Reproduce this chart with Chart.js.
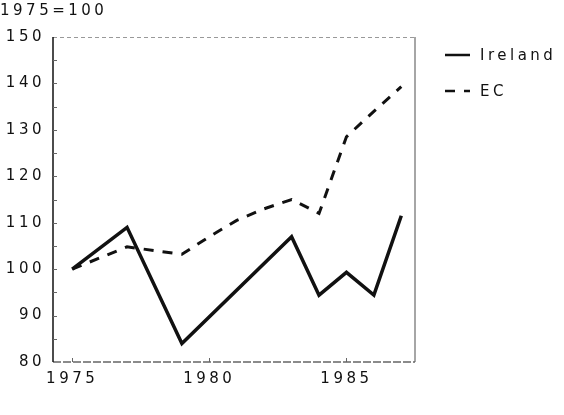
<!DOCTYPE html>
<html>
<head>
<meta charset="utf-8">
<script src="https://cdn.jsdelivr.net/npm/chart.js@4.4.1/dist/chart.umd.min.js"></script>
<style>
html,body{margin:0;padding:0;background:#fff;}
#wrap{width:564px;height:415px;position:relative;}
</style>
</head>
<body>
<div id="wrap"><canvas id="c" width="564" height="415"></canvas></div>
<script>
// ---- data ----
const unitLabel = "1975=100";
const xTickYears = [1975, 1980, 1985];
const irelandYears = [1975, 1977, 1979, 1983, 1984, 1985, 1986, 1987];
const irelandValues = [100, 109, 84, 107, 94.4, 99.3, 94.4, 111.5];
const ecYears = [1975, 1977, 1979, 1980, 1981, 1982, 1983, 1984, 1985, 1986, 1987];
const ecValues = [100, 104.8, 103.2, 107, 110.5, 113, 115, 112, 128.5, 134, 139.3];
const seriesNames = ["Ireland", "EC"];

const FAMILY = "'DejaVu Sans', Arial, sans-serif";
const SIZE = 15;
const WEIGHT = 'normal';
const FONT = WEIGHT + " " + SIZE + "px " + FAMILY;
const LS = "3.5px";

function toPoints(xs, ys){ return xs.map((x,i)=>({x:x, y:ys[i]})); }

const spacingPlugin = {
  id: 'spacing',
  beforeLayout(chart){ chart.ctx.letterSpacing = LS; },
  beforeDraw(chart){ chart.ctx.letterSpacing = LS; },
  beforeDatasetsDraw(chart){ chart.ctx.letterSpacing = LS; }
};

const decorPlugin = {
  id: 'decor',
  beforeDatasetsDraw(chart){
    const ctx = chart.ctx, a = chart.chartArea;
    const xs = chart.scales.x, ys = chart.scales.y;
    ctx.save();
    ctx.strokeStyle = '#999'; ctx.lineWidth = 1; ctx.setLineDash([4,3]);
    ctx.beginPath(); ctx.moveTo(a.left, a.top+0.5); ctx.lineTo(a.right, a.top+0.5); ctx.stroke();
    ctx.setLineDash([]); ctx.strokeStyle = '#888'; ctx.lineWidth = 1.5;
    ctx.beginPath(); ctx.moveTo(a.right, a.top); ctx.lineTo(a.right, a.bottom); ctx.stroke();
    ctx.strokeStyle = '#666'; ctx.lineWidth = 1.5; ctx.setLineDash([8,2]);
    ctx.beginPath(); ctx.moveTo(a.left, a.bottom); ctx.lineTo(a.right, a.bottom); ctx.stroke();
    ctx.setLineDash([]);
    ctx.strokeStyle = '#111'; ctx.lineWidth = 1.5;
    ctx.beginPath(); ctx.moveTo(a.left, a.top); ctx.lineTo(a.left, a.bottom); ctx.stroke();
    ctx.strokeStyle = '#666'; ctx.lineWidth = 1;
    for (let v = ys.min + 5; v < ys.max; v += 5){
      const py = Math.round(ys.getPixelForValue(v)) + 0.5;
      ctx.beginPath(); ctx.moveTo(a.left, py); ctx.lineTo(a.left + 4, py); ctx.stroke();
    }
    xTickYears.forEach(y => {
      const px = Math.round(xs.getPixelForValue(y)) + 0.5;
      ctx.beginPath(); ctx.moveTo(px, a.bottom); ctx.lineTo(px, a.bottom - 4); ctx.stroke();
    });
    ctx.restore();
  },
  afterDraw(chart){
    const ctx = chart.ctx;
    ctx.save();
    ctx.letterSpacing = LS;
    ctx.font = FONT; ctx.fillStyle = '#111'; ctx.textAlign = 'left'; ctx.textBaseline = 'alphabetic';
    ctx.fillText(unitLabel, 0, 15);
    const ds = chart.data.datasets;
    const rows = [55, 91];
    ds.forEach((d, i) => {
      const y = rows[i];
      ctx.strokeStyle = d.borderColor; ctx.lineWidth = 2.5;
      ctx.setLineDash(d.borderDash || []);
      ctx.beginPath(); ctx.moveTo(445, y); ctx.lineTo(470, y); ctx.stroke();
      ctx.setLineDash([]);
      ctx.fillText(d.label, 480, y + 5);
    });
    ctx.restore();
  }
};

new Chart(document.getElementById('c'), {
  type: 'line',
  data: {
    datasets: [
      { label: seriesNames[0], data: toPoints(irelandYears, irelandValues),
        borderColor: '#111', borderWidth: 3.5, borderJoinStyle: 'miter',
        pointRadius: 0, tension: 0, fill: false },
      { label: seriesNames[1], data: toPoints(ecYears, ecValues),
        borderColor: '#111', borderWidth: 3, borderDash: [10, 9], borderJoinStyle: 'miter',
        pointRadius: 0, tension: 0, fill: false }
    ]
  },
  options: {
    responsive: false,
    animation: false,
    devicePixelRatio: 1,
    layout: { padding: { left: 0, top: 37, right: 149, bottom: 0 } },
    plugins: { legend: { display: false }, tooltip: { enabled: false }, title: { display: false } },
    scales: {
      x: {
        type: 'linear', min: 1974.3, max: 1987.5,
        afterBuildTicks(s){ s.ticks = xTickYears.map(v => ({value: v})); },
        afterFit(s){ s.height = 53; },
        grid: { display: false, drawTicks: false },
        border: { display: false },
        ticks: { color: '#111', font: { family: FAMILY, size: SIZE, weight: WEIGHT },
                 padding: 8, maxRotation: 0, autoSkip: false, callback: v => String(v) }
      },
      y: {
        min: 80, max: 150,
        afterFit(s){ s.width = 53; },
        grid: { display: false, drawTicks: false },
        border: { display: false },
        ticks: { stepSize: 10, color: '#111', font: { family: FAMILY, size: SIZE, weight: WEIGHT },
                 padding: 8 }
      }
    }
  },
  plugins: [spacingPlugin, decorPlugin]
});
</script>
</body>
</html>
